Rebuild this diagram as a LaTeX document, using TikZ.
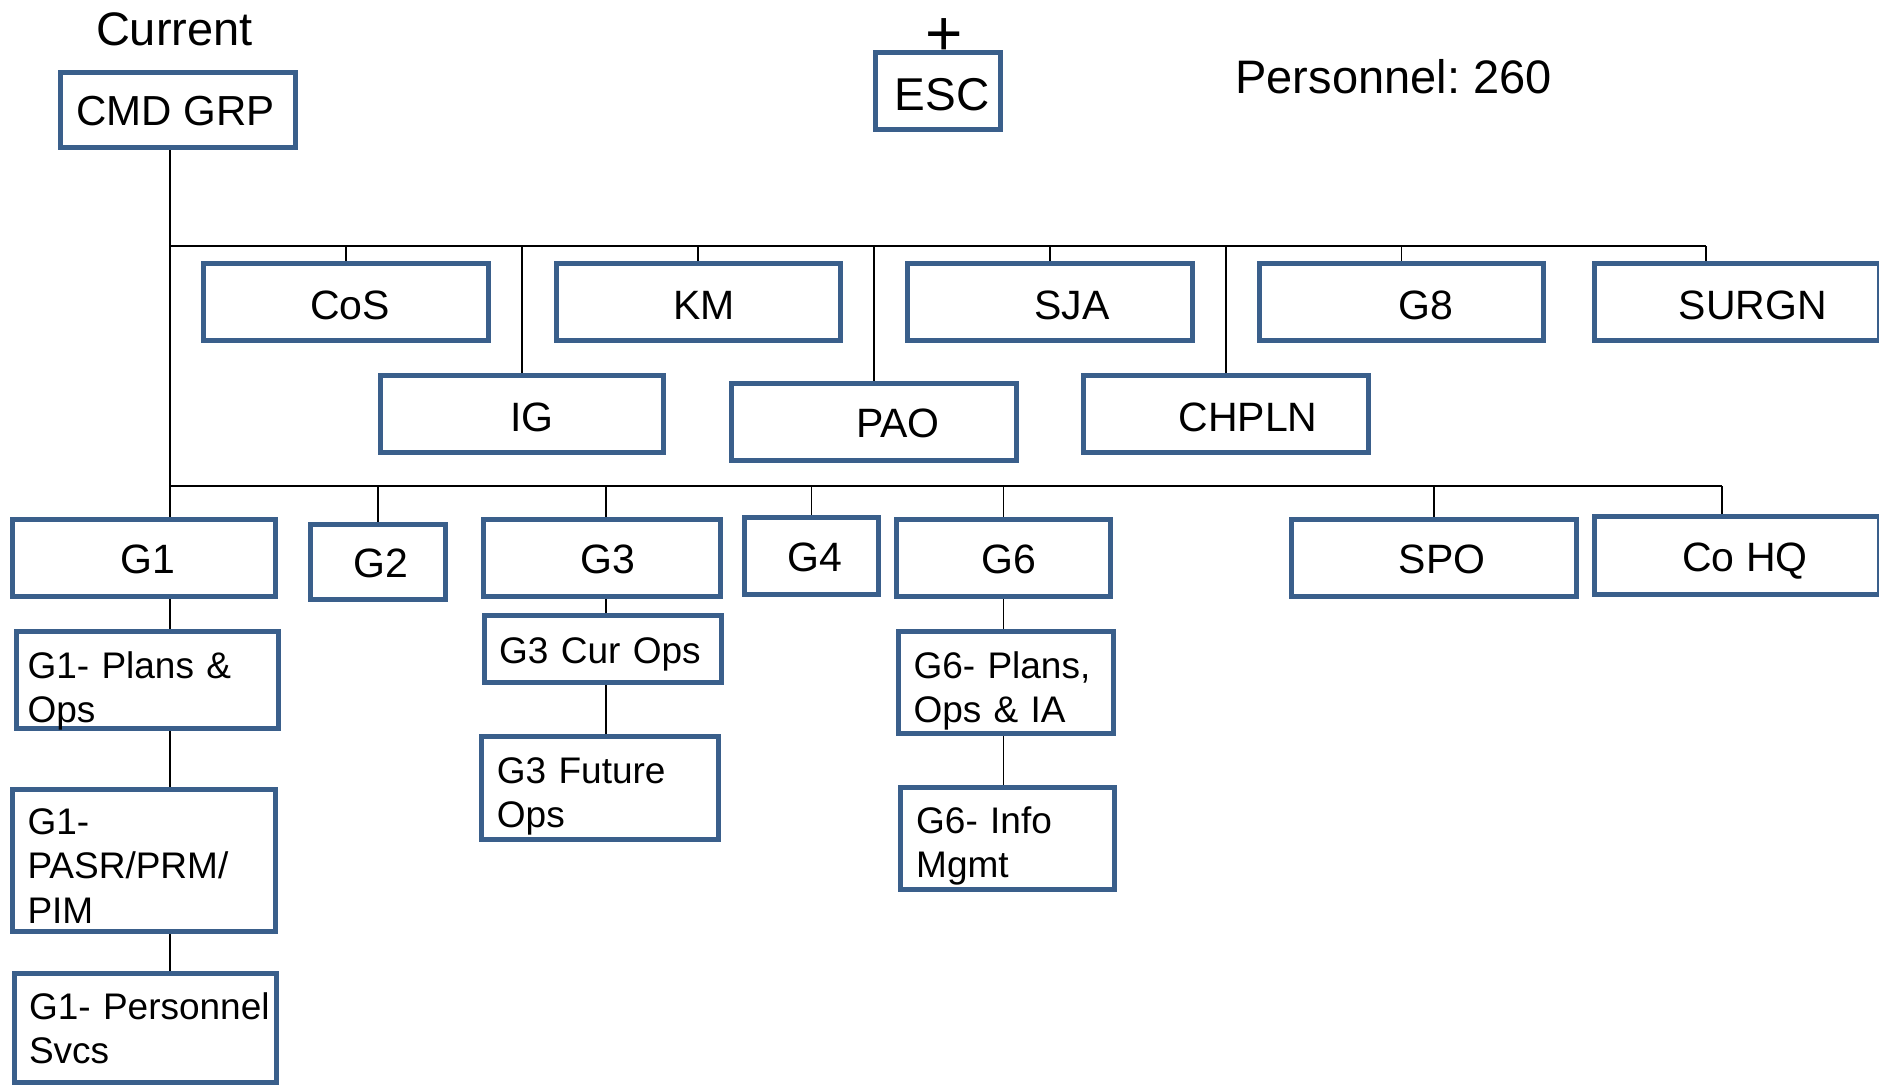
\documentclass[tikz,border=0pt]{standalone}
\usepackage{fontspec}
\setmainfont{Liberation Sans}
\frenchspacing
\definecolor{boxblue}{RGB}{58,95,139}
\pgfdeclarelayer{background}
\pgfsetlayers{background,main}
\newcommand\orgnode[7]{\node[orgbox,#6,minimum width={(#4)-(#2)-5},minimum height={(#5)-(#3)-5}] (#1) at ({((#2)+(#4))/2},{((#3)+(#5))/2}) {#7};}
\begin{document}
\begin{tikzpicture}[x=1pt,y=-1pt,
  orgbox/.style={draw=boxblue, line width=5pt, inner sep=0pt},
  rowtext/.style={font=\fontsize{41}{49}\selectfont, text height=35.4pt, text depth=0pt},
  lowtext/.style={font=\fontsize{41}{49}\selectfont, text height=31.4pt, text depth=0pt},
  subtext/.style={font=\fontsize{37}{44.5}\selectfont, anchor=base west, align=left, text width=320pt, inner sep=0pt},
  conn/.style={draw=black, line width=1.8pt},
  title/.style={font=\fontsize{47}{56}\selectfont, anchor=base, inner sep=0pt}]
\useasboundingbox (0,0) rectangle (1879,1087);
\clip (0,0) rectangle (1879,1087);

% top texts
\node[title] (current) at (174.4,45) {Current};
\node[title] (pers) at (1393.5,93.3) {Personnel: 260};
\node[font=\fontsize{64}{70}\selectfont, inner sep=0pt] (plus) at (943.7,37) {+};

% top boxes
\orgnode{cmd}{57.5}{69.5}{298}{150}{font=\fontsize{42}{50}\selectfont, text height=31.5pt, text depth=0pt}{CMD GRP\hspace*{4pt}}
\orgnode{esc}{873}{50}{1003}{132}{font=\fontsize{46}{55}\selectfont, text height=39pt, text depth=0pt}{\hspace*{8pt}ESC}

% staff row 1
\orgnode{cos}{201}{261}{491}{343}{rowtext}{\hspace*{8pt}CoS}
\orgnode{km}{553.6}{261}{843}{343}{rowtext}{\hspace*{12pt}KM}
\orgnode{sja}{905}{261}{1195}{343}{rowtext}{\hspace*{44pt}SJA}
\orgnode{g8}{1257}{261}{1546}{343}{rowtext}{\hspace*{48pt}G8}
\orgnode{surgn}{1592}{261}{1882}{343}{rowtext}{\hspace*{32pt}SURGN}
% staff row 2
\orgnode{ig}{378}{373}{666}{455}{rowtext}{\hspace*{20pt}IG}
\orgnode{pao}{729}{381}{1018.6}{463}{lowtext}{\hspace*{48pt}PAO}
\orgnode{chpln}{1081}{373}{1371}{455}{rowtext}{\hspace*{44pt}CHPLN}

% lower row
\orgnode{g1}{9.5}{517}{277.5}{599}{lowtext}{\hspace*{9pt}G1}
\orgnode{g2}{308}{522}{448}{602}{lowtext}{\hspace*{5pt}G2}
\orgnode{g3}{481}{517}{723}{599}{lowtext}{\hspace*{12pt}G3}
\orgnode{g4}{742}{515}{881}{597}{lowtext}{\hspace*{6pt}G4}
\orgnode{g6}{894}{517}{1113}{599}{lowtext}{\hspace*{11pt}G6}
\orgnode{spo}{1289}{517}{1579}{599}{lowtext}{\hspace*{16pt}SPO}
\orgnode{cohq}{1592}{514}{1882}{597}{lowtext}{\hspace*{16pt}Co HQ}

% sub boxes
\orgnode{g1a}{13.5}{629}{281}{731}{}{}
\orgnode{g1b}{9.5}{787}{277.5}{934}{}{}
\orgnode{g1c}{11.5}{971}{279}{1085}{}{}
\orgnode{g3a}{481.5}{612.5}{723.5}{684.5}{}{}
\orgnode{g3b}{479}{734}{721}{842}{}{}
\orgnode{g6a}{895.5}{629}{1115.5}{736}{}{}
\orgnode{g6b}{898}{785}{1116.5}{891.5}{}{}

\node[subtext] (g1at) at (27.3,678) {G1- Plans \&\\Ops};
\node[subtext] (g1bt) at (27.3,834) {G1-\\PASR/PRM/\\PIM};
\node[subtext] (g1ct) at (28.8,1019) {G1- Personnel\\Svcs};
\node[subtext] (g3at) at (499,663) {G3 Cur Ops};
\node[subtext] (g3bt) at (496.7,783) {G3 Future\\Ops};
\node[subtext] (g6at) at (913.3,678) {G6- Plans,\\Ops \& IA};
\node[subtext] (g6bt) at (916,833) {G6- Info\\Mgmt};

% bus coordinates
\coordinate (bus1w) at (170,246);
\coordinate (bus1e) at (1705.7,246);
\coordinate (bus2w) at (170,486);
\coordinate (bus2e) at (1722,486);
\coordinate (g3x) at ([xshift=4pt]g3.north);

\begin{pgfonlayer}{background}
\fill[white] (0,0) rectangle (1879,1087);
% trunk and buses
\draw[conn] (cmd.south -| bus1w) -- (bus2w);
\draw[conn] (bus1w) -- (bus1e);
\draw[conn] (bus2w) -- (bus2e);
% row 1 drops
\draw[conn] (bus1w -| cos.north) -- (cos.north);
\draw[conn] (bus1w -| km.north) -- (km.north);
\draw[conn] (bus1w -| sja.north) -- (sja.north);
\draw[conn] (bus1w -| g8.north) -- (g8.north);
\draw[conn] (bus1e) -- (bus1e |- surgn.north);
% row 2 drops
\draw[conn] (bus1w -| ig.north) -- (ig.north);
\draw[conn] (bus1w -| pao.north) -- (pao.north);
\draw[conn] (bus1w -| chpln.north) -- (chpln.north);
% lower drops
\draw[conn] (bus2w) -- (bus2w |- g1.north);
\draw[conn] (bus2w -| g2.north) -- (g2.north);
\draw[conn] (bus2w -| g3x) -- (g3x);
\draw[conn] (bus2w -| g4.north) -- (g4.north);
\draw[conn] (bus2w -| g6.north) -- (g6.north);
\draw[conn] (bus2w -| spo.north) -- (spo.north);
\draw[conn] (bus2e) -- (bus2e |- cohq.north);
% sub chains
\draw[conn] (g1.south -| bus2w) -- (g1a.north -| bus2w);
\draw[conn] (g1a.south -| bus2w) -- (g1b.north -| bus2w);
\draw[conn] (g1b.south -| bus2w) -- (g1c.north -| bus2w);
\draw[conn] (g3.south -| g3x) -- (g3a.north -| g3x);
\draw[conn] (g3a.south -| g3x) -- (g3b.north -| g3x);
\draw[conn] (g6.south) -- (g6.south |- g6a.north);
\draw[conn] (g6a.south -| g6.south) -- (g6b.north -| g6.south);
\end{pgfonlayer}
\end{tikzpicture}
\end{document}
